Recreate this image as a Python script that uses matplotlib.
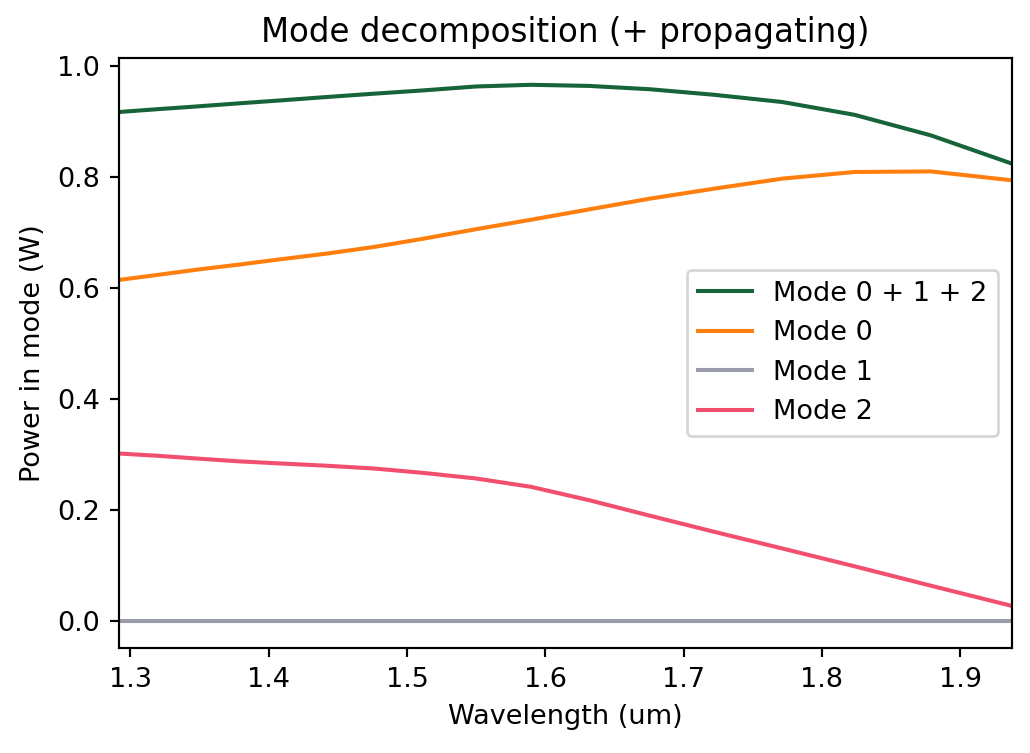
# mode decomposition vs wavelength
import matplotlib
matplotlib.use("Agg")
import matplotlib.pyplot as plt

# wavelengths (um), 17 frequency points around 1.55 um
wavelength = [1.9375, 1.8788, 1.8235, 1.7714, 1.7222, 1.6757, 1.6316, 1.5897,
              1.5500, 1.5122, 1.4762, 1.4419, 1.4091, 1.3778, 1.3478, 1.3191,
              1.2917]

# power in each mode (W)
mode_total = [0.824, 0.875, 0.912, 0.935, 0.948, 0.958, 0.964, 0.966,
              0.963, 0.956, 0.950, 0.944, 0.938, 0.9325, 0.927, 0.922, 0.917]
mode0 = [0.794, 0.810, 0.809, 0.797, 0.779, 0.761, 0.7416, 0.723,
         0.706, 0.689, 0.674, 0.662, 0.652, 0.642, 0.633, 0.6235, 0.6146]
mode1 = [0.0] * 17
mode2 = [0.0275, 0.064, 0.099, 0.131, 0.161, 0.190, 0.218, 0.242,
         0.257, 0.267, 0.275, 0.280, 0.284, 0.288, 0.293, 0.298, 0.302]

DPI = 195
fig = plt.figure(figsize=(1030 / DPI, 753 / DPI), dpi=DPI)
ax = fig.add_subplot(111)
fig.subplots_adjust(left=0.1155, right=0.9825, top=0.923, bottom=0.1394)

ax.plot(wavelength, mode_total, color="#17633a", label="Mode 0 + 1 + 2")
ax.plot(wavelength, mode0, color="#ff7f0e", label="Mode 0")
ax.plot(wavelength, mode1, color="#9a9cab", label="Mode 1")
ax.plot(wavelength, mode2, color="#f24e6e", label="Mode 2")

ax.set_xlim(min(wavelength), max(wavelength))
ax.set_title("Mode decomposition (+ propagating)")
ax.set_xlabel("Wavelength (um)")
ax.set_ylabel("Power in mode (W)")
ax.legend(loc="center right")

fig.savefig("out.png", dpi=DPI)
